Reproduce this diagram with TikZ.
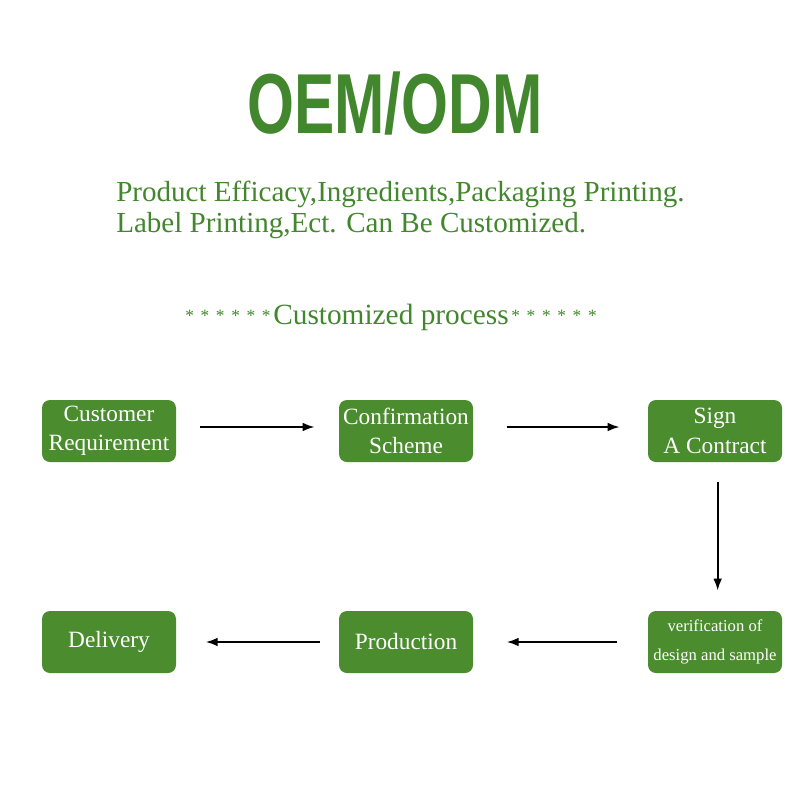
\documentclass[tikz,border=0pt]{standalone}
\usepackage{fontspec}
\setmainfont{Liberation Serif}
\newfontfamily\titlefont{Liberation Sans}
\usetikzlibrary{arrows.meta}
\definecolor{leaf}{RGB}{74,140,46}
\definecolor{leaftext}{RGB}{66,135,45}
\tikzset{
  stepbox/.style={fill=leaf, rounded corners=6pt, minimum width=100.5pt, minimum height=46.5pt, inner sep=1pt, text=white, align=center, font=\fontsize{17.5}{22}\selectfont},
  flow/.style={-{Latex[length=9pt,width=6.5pt]}, line width=1.6pt, black}
}
\newcommand{\starrow}{\raisebox{2pt}{\fontsize{13}{15}\selectfont *\hspace{5pt}*\hspace{5pt}*\hspace{5pt}*\hspace{5pt}*\hspace{5pt}*}}
\begin{document}
\begin{tikzpicture}[x=0.75pt,y=-0.75pt]
\useasboundingbox (0,0) rectangle (800,800);
\fill[white] (0,0) rectangle (800,800);
\node[text=leaftext, font=\titlefont\bfseries\fontsize{62}{70}\selectfont, xscale=0.73, yscale=1.03] (title) at (395,103) {OEM/ODM};
\node[text=leaftext, anchor=north west, align=left, inner sep=0pt, font=\fontsize{21.8}{23}\selectfont] (sub) at (116,181) {Product Efficacy,Ingredients,Packaging Printing.\\Label Printing,Ect. Can Be Customized.};
\node[text=leaftext, inner sep=0pt] (proc) at (391,317) {\starrow\hspace{2pt}{\fontsize{22}{24}\selectfont Customized process}\hspace{2pt}\starrow};
\node[stepbox] (cr) at (109,431) {Customer\\Requirement};
\node[stepbox] (cs) at (406,431) {Confirmation\\Scheme};
\node[stepbox] (sc) at (715,431) {Sign\\A Contract};
\node[stepbox, font=\fontsize{12.5}{22}\selectfont] (vd) at (715,642) {verification of\\design and sample};
\node[stepbox] (pr) at (406,642) {Production};
\node[stepbox] (de) at (109,642) {Delivery};
\draw[flow] ([xshift=18pt,yshift=3pt]cr.east) -- ([xshift=-18pt,yshift=3pt]cs.west);
\draw[flow] ([xshift=25pt,yshift=3pt]cs.east) -- ([xshift=-21pt,yshift=3pt]sc.west);
\draw[flow] ([xshift=2pt,yshift=-15pt]sc.south) -- ([xshift=2pt,yshift=15pt]vd.north);
\draw[flow] ([xshift=-23pt]vd.west) -- ([xshift=25pt]pr.east);
\draw[flow] ([xshift=-14pt]pr.west) -- ([xshift=22pt]de.east);
\end{tikzpicture}
\end{document}
